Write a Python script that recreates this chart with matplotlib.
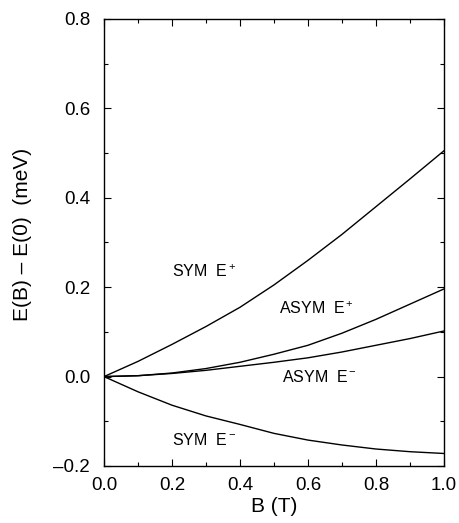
import matplotlib
matplotlib.use("Agg")
import matplotlib.pyplot as plt
from matplotlib.ticker import MultipleLocator, FuncFormatter

plt.rcParams['font.family'] = ['Liberation Sans', 'DejaVu Sans']
plt.rcParams['mathtext.fontset'] = 'custom'
plt.rcParams['mathtext.rm'] = 'Liberation Sans'
plt.rcParams['mathtext.it'] = 'Liberation Sans'

B = [0.0, 0.1, 0.2, 0.3, 0.4, 0.5, 0.6, 0.7, 0.8, 0.9, 1.0]
sym_plus = [0.0, 0.034, 0.072, 0.112, 0.155, 0.205, 0.26, 0.318, 0.38, 0.442, 0.505]
asym_plus = [0.0, 0.002, 0.008, 0.018, 0.032, 0.05, 0.07, 0.097, 0.128, 0.162, 0.196]
asym_minus = [0.0, 0.002, 0.007, 0.014, 0.023, 0.032, 0.042, 0.055, 0.07, 0.085, 0.102]
sym_minus = [0.0, -0.034, -0.064, -0.088, -0.107, -0.127, -0.142, -0.153, -0.162, -0.168, -0.172]

labels = ["SYM  E$^+$", "ASYM  E$^+$", "ASYM  E$^-$", "SYM  E$^-$"]
label_pos = [(0.2, 0.235), (0.515, 0.152), (0.525, 0.0), (0.2, -0.142)]

fig = plt.figure(figsize=(4.59, 5.23), dpi=100)
ax = fig.add_axes([0.2266, 0.109, 0.7404, 0.8547])

for series in (sym_plus, asym_plus, asym_minus, sym_minus):
    ax.plot(B, series, color='black', lw=1.0)

for text, (x, y) in zip(labels, label_pos):
    ax.text(x, y, text, fontsize=11.5, va='center', ha='left')

def fmt(v, pos):
    s = f"{v:.1f}"
    if s == "-0.0":
        s = "0.0"
    return s.replace("-", "\u2013")

ax.set_xlim(0, 1)
ax.set_ylim(-0.2, 0.8)
ax.xaxis.set_major_locator(MultipleLocator(0.2))
ax.xaxis.set_minor_locator(MultipleLocator(0.1))
ax.yaxis.set_major_locator(MultipleLocator(0.2))
ax.yaxis.set_minor_locator(MultipleLocator(0.1))
ax.xaxis.set_major_formatter(FuncFormatter(fmt))
ax.yaxis.set_major_formatter(FuncFormatter(fmt))
ax.tick_params(which='both', direction='in', top=True, right=True, labelsize=13.5, width=0.8)
ax.tick_params(which='major', length=5)
ax.tick_params(which='minor', length=3)
ax.tick_params(axis='y', which='major', pad=10)
ax.tick_params(axis='x', which='major', pad=8)
for s in ax.spines.values():
    s.set_linewidth(1.0)

ax.set_xlabel("B (T)", fontsize=15, labelpad=2)
ax.set_ylabel("E(B) \u2013 E(0)  (meV)", fontsize=15)
ax.yaxis.set_label_coords(-0.212, 0.518)

fig.savefig("out.png", dpi=100)
